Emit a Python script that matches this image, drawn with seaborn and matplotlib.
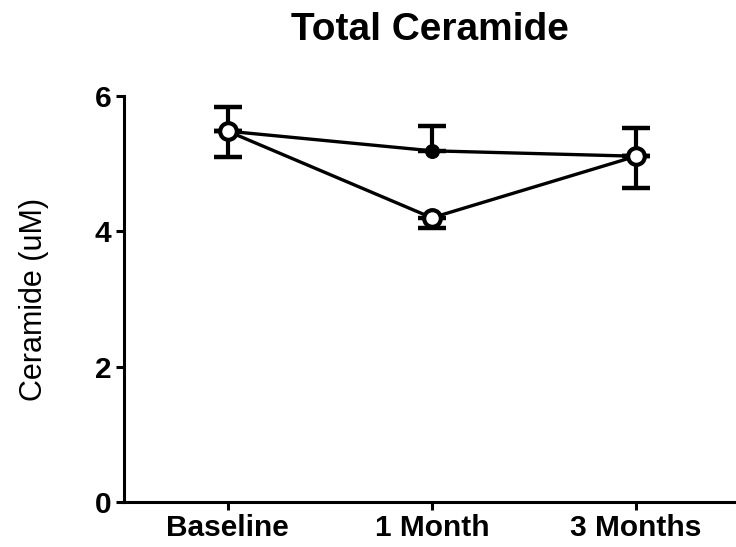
import matplotlib
matplotlib.use("Agg")
import matplotlib.pyplot as plt
import seaborn as sns
import pandas as pd
import numpy as np

# Timepoints and group means (uM)
timepoints = ["Baseline", "1 Month", "3 Months"]
group_filled = [5.48, 5.19, 5.11]
group_open = [5.48, 4.20, 5.11]
# SEM: filled group shown above, open group shown below
err_filled_up = [0.36, 0.37, 0.42]
err_open_down = [0.38, 0.15, 0.47]

sns.set_style("ticks")
plt.rcParams["font.family"] = ["Liberation Sans", "DejaVu Sans"]
plt.rcParams["text.color"] = "black"
plt.rcParams["axes.labelcolor"] = "black"
plt.rcParams["xtick.color"] = "black"
plt.rcParams["ytick.color"] = "black"
plt.rcParams["axes.edgecolor"] = "black"

df = pd.DataFrame({
    "Time": timepoints * 2,
    "Ceramide": group_filled + group_open,
    "Group": ["filled"] * 3 + ["open"] * 3,
})

fig = plt.figure(figsize=(7.36, 5.47), dpi=100)
ax = fig.add_axes([0.168, 0.0823, 0.832, 0.7422])

lw = 2.4
x = np.arange(len(timepoints))

# error bars (one-sided)
ax.errorbar(x, group_filled, yerr=[np.zeros(3), err_filled_up], fmt="none",
            ecolor="black", elinewidth=3, capsize=10, capthick=3.2, zorder=2)
ax.errorbar(x, group_open, yerr=[err_open_down, np.zeros(3)], fmt="none",
            ecolor="black", elinewidth=3, capsize=10, capthick=3.2, zorder=2)

sns.lineplot(data=df[df.Group == "filled"], x="Time", y="Ceramide", ax=ax,
             color="black", linewidth=lw, marker="o", markersize=10,
             markerfacecolor="black", markeredgecolor="black", zorder=3,
             legend=False, errorbar=None)
sns.lineplot(data=df[df.Group == "open"], x="Time", y="Ceramide", ax=ax,
             color="black", linewidth=lw, marker="o", markersize=12,
             markerfacecolor="white", markeredgecolor="black",
             markeredgewidth=3, zorder=4, legend=False, errorbar=None)

ax.set_xlim(-0.51, 2.49)
ax.set_ylim(0, 6)
ax.set_yticks([0, 2, 4, 6])
ax.set_xticks(x)
ax.set_xticklabels(timepoints)

for s in ["top", "right"]:
    ax.spines[s].set_visible(False)
for s in ["left", "bottom"]:
    ax.spines[s].set_linewidth(2.2)
ax.tick_params(axis="both", direction="out", length=6, width=2.2, pad=3)
for lab in ax.get_xticklabels() + ax.get_yticklabels():
    lab.set_fontsize(21.5)
    lab.set_fontweight("bold")

ax.set_xlabel("")
ax.set_ylabel("Ceramide (uM)", fontsize=22, labelpad=33)
ax.set_title("Total Ceramide", fontsize=28, fontweight="bold", pad=40)

fig.savefig("out.png", dpi=100)
